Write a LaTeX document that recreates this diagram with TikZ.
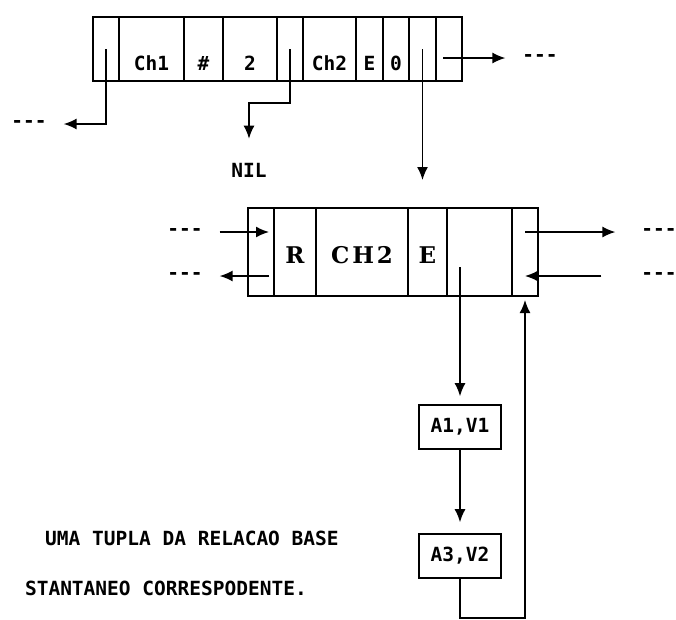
\documentclass[tikz,border=0pt]{standalone}
\usepackage{fontspec}
\usetikzlibrary{arrows.meta,positioning,calc}
\newfontfamily\prtfont{DejaVu Sans Mono}
\newfontfamily\recfont[LetterSpace=12]{DejaVu Serif}
\newcommand\prt{\prtfont\bfseries\fontsize{19.5pt}{22pt}\selectfont}
\newcommand\rec{\recfont\bfseries\fontsize{23pt}{26pt}\selectfont}
\begin{document}
\begin{tikzpicture}[x=1pt, y=-1pt,
    cell/.style={draw, line width=1.6pt, inner sep=0pt, outer sep=0pt, anchor=north west},
    top/.style={cell, minimum height=64pt, font=\prt, text height=44pt, text depth=1pt},
    mid/.style={cell, minimum height=88pt, font=\rec, text height=24pt, text depth=1pt},
    vbox/.style={draw, line width=1.6pt, minimum width=82pt, minimum height=44pt, font=\prt},
    txt/.style={font=\prt, inner sep=0pt},
    dashes/.style={font=\prt, inner sep=0pt, outer sep=17pt},
    ptr/.style={line width=1.6pt, -{Latex[length=13pt,width=11pt]}}]
        \useasboundingbox (0,0) rectangle (676,619);
        \node[top, minimum width=26pt] (t1) at (93,17) {};
        \node[top, minimum width=65pt, right=0pt of t1] (t2) {Ch1};
        \node[top, minimum width=39pt, right=0pt of t2] (t3) {\#};
        \node[top, minimum width=54pt, right=0pt of t3] (t4) {2};
        \node[top, minimum width=26pt, right=0pt of t4] (t5) {};
        \node[top, minimum width=53pt, right=0pt of t5] (t6) {Ch2};
        \node[top, minimum width=27pt, right=0pt of t6] (t7) {E};
        \node[top, minimum width=26pt, right=0pt of t7] (t8) {0};
        \node[top, minimum width=27pt, right=0pt of t8] (t9) {};
        \node[top, minimum width=26pt, right=0pt of t9] (t10) {};

        \node[dashes] (dtl) at (29,124) {---};
        \node[dashes] (dtr) at (540,58) {---};
        \node[txt] (nil) at (249,170) {NIL};
        \draw[ptr] (t1.center) |- (dtl);
        \draw[ptr, shorten >=24pt] (t5.center) -- ++(0,54) -| (nil);
        \draw[ptr, shorten >=28pt] (t9.center) -- (t9.center |- 0,208);
        \draw[ptr] ([xshift=-6pt,yshift=-9pt]t10.center) -- (dtr);

        \node[mid, minimum width=26pt] (m1) at (248,208) {};
        \node[mid, minimum width=42pt, right=0pt of m1] (m2) {R};
        \node[mid, minimum width=92pt, right=0pt of m2] (m3) {CH2};
        \node[mid, minimum width=39pt, right=0pt of m3] (m4) {E};
        \node[mid, minimum width=65pt, right=0pt of m4] (m5) {};
        \node[mid, minimum width=26pt, right=0pt of m5] (m6) {};

        \node[dashes] (dml1) at (185,232) {---};
        \node[dashes] (dml2) at (185,276) {---};
        \node[dashes] (dmr1) at (659,232) {---};
        \node[dashes] (dmr2) at (659,276) {---};
        \draw[ptr, shorten >=5pt] (dml1) -- (dml1 -| m1.east);
        \draw[ptr, shorten <=5pt] (dml2 -| m1.east) -- (dml2);
        \draw[ptr, shorten >=9pt] (dmr1 -| m6.center) -- (dmr1);
        \draw[ptr, shorten <=23pt] (dmr2) -- (dmr2 -| m6.center);

        \node[vbox] (a1) at (460,427) {A1,V1};
        \node[vbox] (a3) at (460,556) {A3,V2};
        \draw[ptr, shorten >=8pt] ($(a1.north |- m5.center)+(0,15)$) -- (a1.north);
        \draw[ptr, shorten >=11pt] (a1) -- (a3);
        \draw[ptr, shorten >=4pt] (a3.south) -- ++(0,39) -| (m6.south);

        \node[txt, anchor=west] (cap1) at (45,538) {UMA TUPLA DA RELACAO BASE};
        \node[txt, anchor=east] (cap2) at (307,588) {STANTANEO CORRESPODENTE.};
    \end{tikzpicture}
\end{document}
